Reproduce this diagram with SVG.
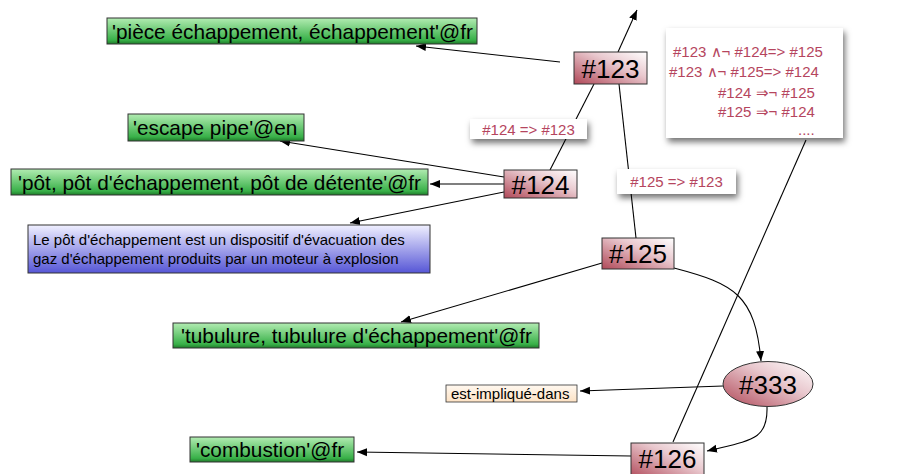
<svg xmlns="http://www.w3.org/2000/svg" width="904" height="474" viewBox="0 0 904 474">
<defs>
<linearGradient id="gGreen" x1="0" y1="0" x2="0" y2="1">
<stop offset="0" stop-color="#b2ecb2"/>
<stop offset="0.85" stop-color="#38b048"/>
<stop offset="1" stop-color="#1f7a2a"/>
</linearGradient>
<linearGradient id="gBlue" x1="0" y1="0" x2="0" y2="1">
<stop offset="0" stop-color="#f0f0ff"/>
<stop offset="1" stop-color="#5656d6"/>
</linearGradient>
<linearGradient id="gPink" x1="0" y1="1" x2="1" y2="0">
<stop offset="0" stop-color="#b04858"/>
<stop offset="0.6" stop-color="#e9c8ce"/>
<stop offset="1" stop-color="#ffffff"/>
</linearGradient>
<linearGradient id="gPeach" x1="0" y1="0" x2="0" y2="1">
<stop offset="0" stop-color="#fff8f0"/>
<stop offset="1" stop-color="#fde2c4"/>
</linearGradient>
<filter id="shadow" x="-20%" y="-20%" width="150%" height="180%">
<feDropShadow dx="2" dy="4" stdDeviation="3" flood-color="#000" flood-opacity="0.55"/>
</filter>
<marker id="arr" viewBox="0 0 10 10" refX="10" refY="5" markerWidth="10" markerHeight="10" markerUnits="userSpaceOnUse" orient="auto">
<path d="M0,1 L10,5 L0,9 z" fill="#000"/>
</marker>
</defs>
<style>
text { font-family: "Liberation Sans", Arial, sans-serif; }
.green { fill: url(#gGreen); stroke: #333; stroke-width: 1; }
.pink { fill: url(#gPink); stroke: #333; stroke-width: 1; }
.lbl { fill: #fff; filter: url(#shadow); }
.gt { font-size: 20.8px; fill: #000; }
.nt { font-size: 26px; fill: #000; text-anchor: middle; }
.rt { font-size: 15px; fill: #b5455e; }
.conn { fill: none; stroke: #000; stroke-width: 1.1; }
</style>

<g id="connectors">
<line class="conn" x1="618" y1="52" x2="637" y2="10" marker-end="url(#arr)"/>
<line class="conn" x1="560" y1="62" x2="416" y2="46" marker-end="url(#arr)"/>
<line class="conn" x1="594" y1="84" x2="550" y2="170"/>
<line class="conn" x1="619" y1="84" x2="636" y2="238"/>
<line class="conn" x1="504" y1="177" x2="280" y2="141" marker-end="url(#arr)"/>
<line class="conn" x1="504" y1="184" x2="430" y2="184" marker-end="url(#arr)"/>
<line class="conn" x1="504" y1="192" x2="350" y2="223" marker-end="url(#arr)"/>
<line class="conn" x1="602" y1="263" x2="401" y2="322" marker-end="url(#arr)"/>
<path class="conn" d="M674,268 C735,284 755,295 761,361" marker-end="url(#arr)"/>
<line class="conn" x1="806" y1="140" x2="673" y2="442"/>
<line class="conn" x1="723" y1="386" x2="580" y2="391" marker-end="url(#arr)"/>
<path class="conn" d="M767,407 C768,440 752,440 707,451" marker-end="url(#arr)"/>
<line class="conn" x1="631" y1="456" x2="357" y2="452" marker-end="url(#arr)"/>
</g>

<g id="label-124-123">
<rect class="lbl" x="470" y="119" width="117" height="20"/>
<text class="rt" x="528.5" y="134.5" text-anchor="middle">#124 =&gt; #123</text>
</g>
<g id="label-125-123">
<rect class="lbl" x="617" y="169" width="119" height="25"/>
<text class="rt" x="676.5" y="187" text-anchor="middle">#125 =&gt; #123</text>
</g>
<g id="rules">
<rect class="lbl" x="666" y="28" width="177" height="110"/>
<text class="rt" x="673" y="57">#123 ∧¬ #124=&gt; #125</text>
<text class="rt" x="669" y="77">#123 ∧¬ #125=&gt; #124</text>
<text class="rt" x="718" y="98">#124 ⇒¬ #125</text>
<text class="rt" x="718" y="117">#125 ⇒¬ #124</text>
<text class="rt" x="798" y="135">....</text>
</g>

<g id="n123">
<rect class="pink" x="574" y="52" width="73" height="32"/>
<text class="nt" x="610.5" y="77.5">#123</text>
</g>
<g id="n124">
<rect class="pink" x="504" y="170" width="73" height="28"/>
<text class="nt" x="540.5" y="193.5">#124</text>
</g>
<g id="n125">
<rect class="pink" x="602" y="238" width="72" height="31"/>
<text class="nt" x="638" y="263">#125</text>
</g>
<g id="n333">
<ellipse class="pink" cx="768" cy="384" rx="45" ry="22.5"/>
<text class="nt" x="768" y="393.5">#333</text>
</g>
<g id="n126">
<rect class="pink" x="631" y="443" width="73" height="36"/>
<text class="nt" x="667.5" y="468">#126</text>
</g>

<g id="piece">
<rect class="green" x="107" y="18" width="370" height="26"/>
<text class="gt" x="112" y="39">'pièce échappement, échappement'@fr</text>
</g>
<g id="escape">
<rect class="green" x="128" y="114" width="176" height="27"/>
<text class="gt" x="133" y="135">'escape pipe'@en</text>
</g>
<g id="pot">
<rect class="green" x="11" y="169" width="417" height="26"/>
<text class="gt" x="18" y="190">'pôt, pôt d'échappement, pôt de détente'@fr</text>
</g>
<g id="definition">
<rect x="28" y="225" width="402" height="48" fill="url(#gBlue)" stroke="#333" stroke-width="1"/>
<text x="33" y="245" font-size="15" fill="#000">Le pôt d'échappement est un dispositif d'évacuation des</text>
<text x="33" y="264" font-size="15" fill="#000">gaz d'échappement produits par un moteur à explosion</text>
</g>
<g id="tubulure">
<rect class="green" x="173" y="323" width="366" height="25"/>
<text class="gt" x="181" y="343">'tubulure, tubulure d'échappement'@fr</text>
</g>
<g id="implique">
<rect x="446" y="385" width="131" height="17" fill="url(#gPeach)" stroke="#333" stroke-width="0.8"/>
<text x="451" y="398.5" font-size="15" fill="#000">est-impliqué-dans</text>
</g>
<g id="combustion">
<rect class="green" x="190" y="437" width="164" height="25"/>
<text class="gt" x="196" y="457">'combustion'@fr</text>
</g>
</svg>
